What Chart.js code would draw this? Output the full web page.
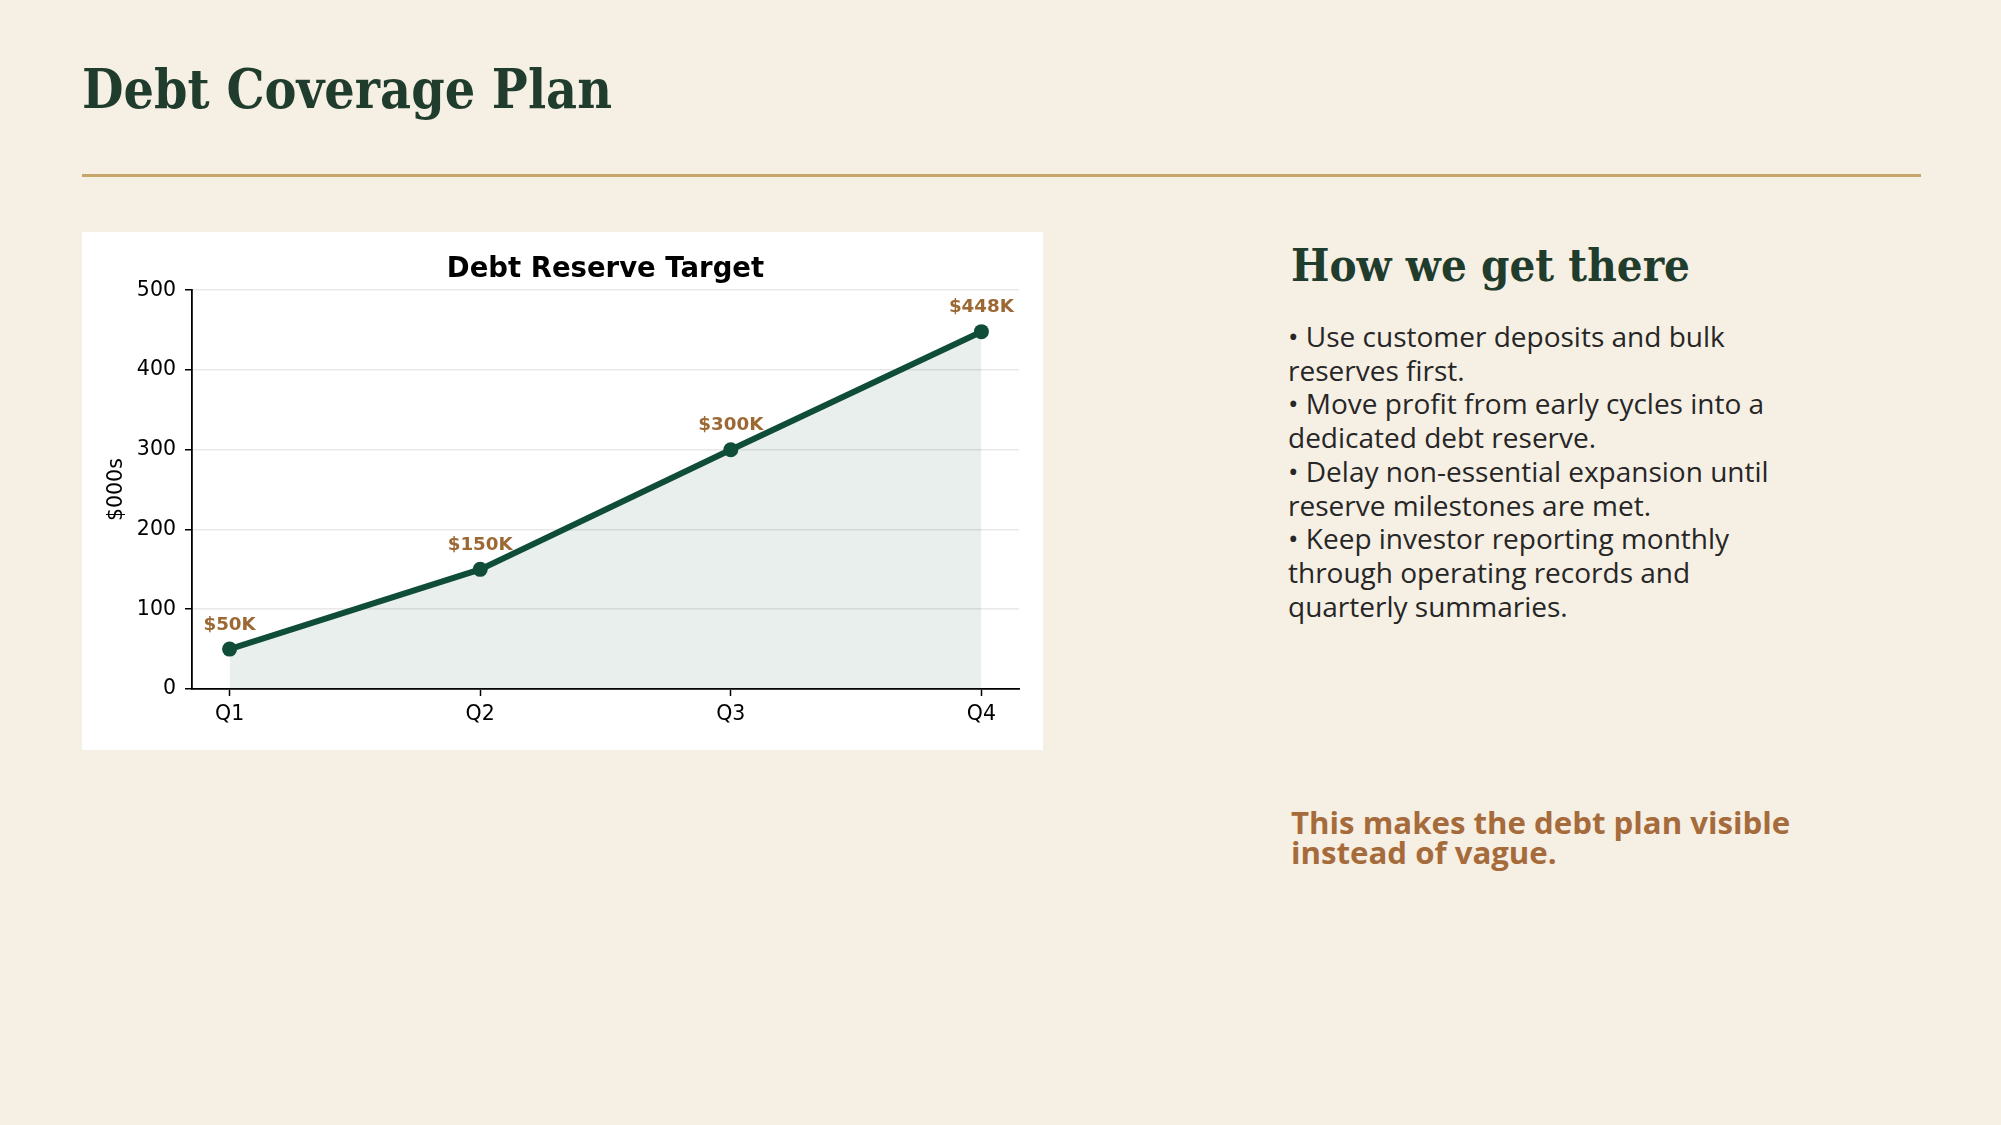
<!DOCTYPE html>
<html>
<head>
<meta charset="utf-8">
<title>Debt Coverage Plan</title>
<script src="https://cdn.jsdelivr.net/npm/chart.js@4.4.1/dist/chart.umd.min.js"></script>
<style>
  html, body { margin: 0; padding: 0; }
  body {
    width: 2001px; height: 1125px; overflow: hidden;
    background: #f6efe4; position: relative;
  }
  .serif {
    position: absolute; white-space: nowrap; line-height: 1;
    font-family: 'DejaVu Serif', serif; font-weight: bold; color: #1f3c2d;
    transform-origin: left center;
  }
  #pageTitle { left: 82px; top: 61px; font-size: 55px; }
  #rule { position: absolute; left: 82px; top: 174px; width: 1839px; height: 2.5px; background: #c8a66b; }
  #chartBox { position: absolute; left: 82px; top: 232px; width: 961px; height: 518px; background: #fff; }
  #heading { left: 1291px; top: 243px; font-size: 45px; }
  #bullets {
    position: absolute; left: 1288px; top: 320px; margin: 0; padding: 0;
    font-family: 'Open Sans', 'Noto Sans', sans-serif; font-size: 28px; line-height: 33.7px;
    color: #262626; white-space: nowrap;
  }
  #callout {
    position: absolute; left: 1291px; top: 808px;
    font-family: 'Open Sans', 'Noto Sans', sans-serif; font-weight: bold; font-size: 31.2px; line-height: 29.5px;
    color: #a66b3b; white-space: nowrap;
  }
</style>
</head>
<body>
<div id="pageTitle" class="serif">Debt Coverage Plan</div>
<div id="rule"></div>
<div id="chartBox"><canvas id="reserveChart" width="961" height="518"></canvas></div>
<div id="heading" class="serif">How we get there</div>
<div id="bullets">
  • Use customer deposits and bulk<br>
  reserves first.<br>
  • Move profit from early cycles into a<br>
  dedicated debt reserve.<br>
  • Delay non-essential expansion until<br>
  reserve milestones are met.<br>
  • Keep investor reporting monthly<br>
  through operating records and<br>
  quarterly summaries.
</div>
<div id="callout">This makes the debt plan visible<br>instead of vague.</div>

<script>
// chart data
const quarters = ['Q1', 'Q2', 'Q3', 'Q4'];
const reserveK = [50, 150, 300, 448];
const yTicks = [0, 100, 200, 300, 400, 500];
const pointLabels = reserveK.map(v => '$' + v + 'K');

const green = '#0f4d39';
const labelBrown = '#9c6935';
const axisFont = { family: 'DejaVu Sans', size: 20.5 };

// squeeze the serif headings to the widths of the original type
function fitWidth(id, target) {
  const el = document.getElementById(id);
  const w = el.getBoundingClientRect().width;
  el.style.transform = 'scaleX(' + (target / w) + ')';
}
fitWidth('pageTitle', 530);
fitWidth('heading', 399);

// value labels above each point
const valueLabels = {
  id: 'valueLabels',
  afterDatasetsDraw(chart) {
    const ctx = chart.ctx;
    const meta = chart.getDatasetMeta(0);
    ctx.save();
    ctx.font = 'bold 18.3px "DejaVu Sans"';
    ctx.fillStyle = labelBrown;
    ctx.textAlign = 'center';
    ctx.textBaseline = 'middle';
    meta.data.forEach((pt, i) => {
      ctx.fillText(pointLabels[i], pt.x, pt.y - 24);
    });
    ctx.restore();
  }
};

new Chart(document.getElementById('reserveChart'), {
  type: 'line',
  data: {
    datasets: [{
      data: reserveK.map((v, i) => ({ x: i, y: v })),
      borderColor: green,
      borderWidth: 6,
      pointRadius: 7.5,
      pointBackgroundColor: green,
      pointBorderWidth: 0,
      tension: 0,
      fill: 'origin',
      backgroundColor: 'rgba(15,77,57,0.09)'
    }]
  },
  options: {
    responsive: false,
    animation: false,
    layout: { padding: { left: 0, right: 24, top: 0, bottom: 0 } },
    plugins: {
      legend: { display: false },
      tooltip: { enabled: false },
      title: {
        display: true,
        text: 'Debt Reserve Target',
        fullSize: false,
        color: '#000',
        font: { family: 'DejaVu Sans', size: 27.5, weight: 'bold' },
        padding: { top: 21.5, bottom: 3.7 }
      }
    },
    scales: {
      x: {
        type: 'linear',
        min: -0.15,
        max: 3.15,
        afterBuildTicks: s => { s.ticks = quarters.map((q, i) => ({ value: i })); },
        afterFit: s => { s.height = 61; },
        ticks: {
          color: '#000',
          font: axisFont,
          padding: 6,
          maxRotation: 0,
          callback: v => quarters[v]
        },
        grid: {
          drawOnChartArea: false,
          drawTicks: true,
          tickLength: 7,
          tickColor: '#000',
          tickWidth: 1.5
        },
        border: { color: '#000', width: 1.8 }
      },
      y: {
        min: 0,
        max: 500,
        afterBuildTicks: s => { s.ticks = yTicks.map(v => ({ value: v })); },
        afterFit: s => { s.width = 110; },
        ticks: { color: '#000', font: axisFont, padding: 9 },
        grid: {
          color: '#e8e8e8',
          lineWidth: 1.5,
          tickLength: 7,
          tickColor: '#000',
          tickWidth: 1.5
        },
        border: { color: '#000', width: 1.8 },
        title: {
          display: true,
          text: '$000s',
          color: '#000',
          font: axisFont,
          padding: { top: 22.7, bottom: 0 }
        }
      }
    }
  },
  plugins: [valueLabels]
});
</script>
</body>
</html>
